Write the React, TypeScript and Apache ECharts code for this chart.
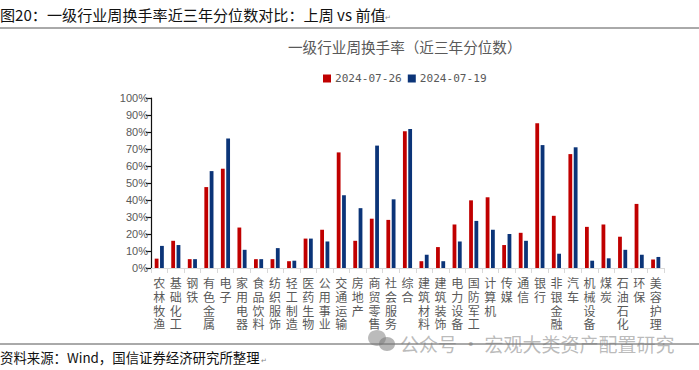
import React, { useEffect, useRef } from "react";
import * as echarts from "echarts";

const categories = ["农林牧渔","基础化工","钢铁","有色金属","电子","家用电器","食品饮料","纺织服饰","轻工制造","医药生物","公用事业","交通运输","房地产","商贸零售","社会服务","综合","建筑材料","建筑装饰","电力设备","国防军工","计算机","传媒","通信","银行","非银金融","汽车","机械设备","煤炭","石油石化","环保","美容护理"];
const latest = [5.5,16,5.2,47.6,58.4,23.8,5.2,5.2,4,17.3,22.5,68,16,29,28.3,80.5,4,12.3,25.6,39.8,41.6,13.5,20.7,85.2,30.7,67,24.2,25.6,18.4,37.7,5];
const previous = [13,13.5,5.2,57,76.2,10.7,5.2,11.7,4.3,17.3,15.6,42.8,35.2,72,40.4,81.7,7.8,4,15.6,27.7,22.5,20,16,72.3,8.4,71,4.3,5.7,10.7,7.8,6.5];
const seriesNames = ["2024-07-26","2024-07-19"];
const headerTitle = "图20：一级行业周换手率近三年分位数对比：上周 vs 前值";
const chartTitle = "一级行业周换手率（近三年分位数）";
const sourceText = "资料来源：Wind，国信证券经济研究所整理";
const watermark = "公众号 · 宏观大类资产配置研究";
const paragraphMark = "↵";

const CJK = '"Noto Sans CJK SC", sans-serif';

export default function App() {
  const ref = useRef<HTMLDivElement>(null);
  useEffect(() => {
    const chart = echarts.init(ref.current!, null, { renderer: "svg" });
    chart.setOption({
      animation: false,
      backgroundColor: "#fff",
      title: {
        text: chartTitle, left: 283, top: 34,
        textStyle: { fontFamily: CJK, fontSize: 14.6, fontWeight: "normal", color: "#595959" },
      },
      legend: {
        top: 68, left: 318, itemWidth: 8, itemHeight: 8, itemGap: 6,
        icon: "rect",
        textStyle: { fontFamily: '"DejaVu Sans Mono", monospace', fontSize: 11.1, color: "#595959", padding: [0, 0, 0, -1] },
        data: seriesNames,
      },
      grid: { left: 151, right: 35, top: 98, bottom: 102 },
      xAxis: {
        type: "category", data: categories,
        axisLine: { lineStyle: { color: "#D9D9D9", width: 1 } },
        axisTick: { show: true, alignWithLabel: false, length: 5, lineStyle: { color: "#D9D9D9" } },
        axisLabel: {
          interval: 0, margin: 8, fontFamily: CJK, fontSize: 12, lineHeight: 13.7, color: "#595959",
          formatter: (v: string) => v.split("").join("\n"),
        },
      },
      yAxis: {
        type: "value", min: 0, max: 100, interval: 10,
        axisLine: { show: true, lineStyle: { color: "#111", width: 1.2 } },
        axisTick: { show: true, length: 5, lineStyle: { color: "#111", width: 1.2 } },
        splitLine: { show: false },
        axisLabel: { margin: 3, fontFamily: '"Liberation Sans", sans-serif', fontSize: 11, color: "#595959", formatter: "{value}%" },
      },
      series: [
        { name: seriesNames[0], type: "bar", data: latest, barWidth: 3.8, barGap: "40%", itemStyle: { color: "#C00000" } },
        { name: seriesNames[1], type: "bar", data: previous, barWidth: 3.8, itemStyle: { color: "#0B3478" } },
      ],
      graphic: [
        { type: "text", x: 0, y: 6, style: { text: headerTitle, fontFamily: CJK, fontSize: 15.1, fill: "#111" } },
        { type: "text", x: 385, y: 13, style: { text: paragraphMark, fontFamily: CJK, fontSize: 7, fill: "#888" } },
        { type: "line", shape: { x1: 0, y1: 28, x2: 699, y2: 28 }, style: { stroke: "#555", lineWidth: 1 } },
        { type: "line", shape: { x1: 0, y1: 344, x2: 699, y2: 344 }, style: { stroke: "#555", lineWidth: 1 } },
        { type: "text", x: 0, y: 350, style: { text: sourceText, fontFamily: CJK, fontSize: 13.4, fill: "#111" } },
        { type: "text", x: 261, y: 356, style: { text: paragraphMark, fontFamily: CJK, fontSize: 7, fill: "#888" } },
        { type: "ellipse", shape: { cx: 377, cy: 338, rx: 9, ry: 8 }, style: { fill: "rgba(120,120,120,0.5)" } },
        { type: "ellipse", shape: { cx: 387, cy: 344, rx: 8, ry: 7 }, style: { fill: "rgba(120,120,120,0.55)" } },
        { type: "text", x: 400, y: 334, style: { text: watermark, fontFamily: CJK, fontSize: 19, fill: "rgba(120,120,120,0.5)" } },
      ],
    });
    return () => chart.dispose();
  }, []);
  return <div ref={ref} style={{ position: "fixed", left: 0, top: 0, width: 699, height: 370 }} />;
}
